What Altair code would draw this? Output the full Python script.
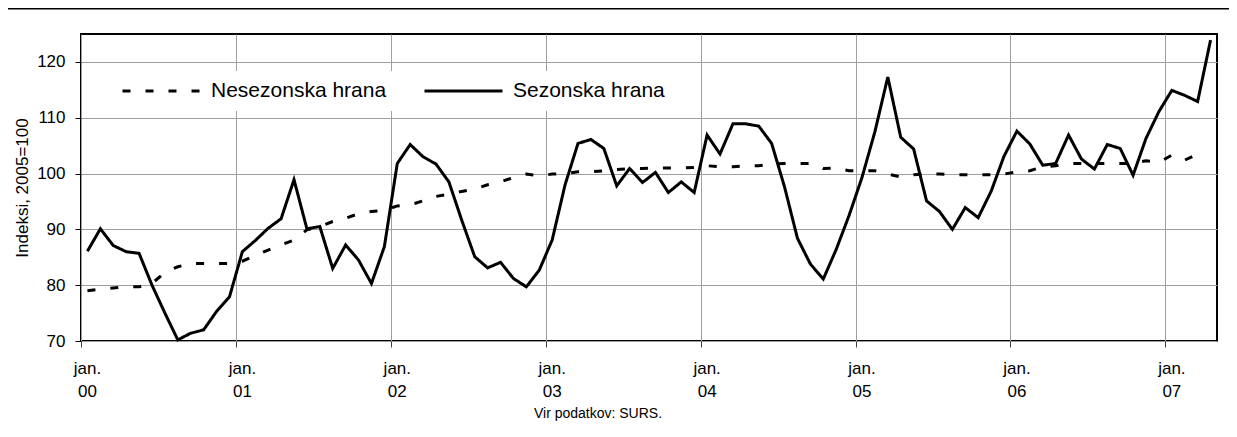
import altair as alt
import pandas as pd

# Monthly values, Jan 2000 .. Apr 2007 (index 0 = jan. 00)
sezonska = [86.1, 90.1, 87.1, 86.0, 85.7, 80.0, 75.0, 70.2, 71.4, 72.0, 75.3, 77.9,
            86.0, 88.0, 90.2, 91.9, 98.9, 90.1, 90.5, 83.0, 87.2, 84.5, 80.3, 86.9,
            101.8, 105.2, 103.0, 101.7, 98.5, 91.6, 85.1, 83.1, 84.1, 81.2, 79.7, 82.7,
            88.1, 98.0, 105.4, 106.1, 104.5, 97.8, 100.9, 98.4, 100.2, 96.6, 98.5, 96.6,
            106.9, 103.5, 108.9, 108.9, 108.5, 105.4, 97.6, 88.4, 83.8, 81.1, 86.4, 92.5,
            99.3, 107.5, 117.3, 106.5, 104.4, 95.1, 93.2, 90.0, 93.9, 92.1, 96.8, 103.1,
            107.6, 105.3, 101.5, 101.8, 106.9, 102.6, 100.8, 105.2, 104.5, 99.7, 106.3, 111.1,
            114.9, 114.0, 112.9, 123.9]
nesezonska = [79.0, 79.3, 79.5, 79.7, 79.7, 80.3, 82.3, 83.3, 83.9, 83.9, 83.9, 83.9,
              84.3, 85.3, 86.3, 87.2, 88.1, 89.9, 90.5, 91.4, 92.0, 92.8, 93.2, 93.4,
              94.2, 94.4, 95.1, 95.9, 96.3, 96.8, 97.2, 98.0, 98.5, 99.3, 99.9, 99.6,
              99.9, 100.0, 100.3, 100.3, 100.5, 100.7, 100.9, 100.9, 101.0, 101.0, 101.0, 101.1,
              101.4, 101.2, 101.2, 101.4, 101.4, 101.7, 101.8, 101.8, 101.8, 100.9, 101.0, 100.5,
              100.5, 100.5, 99.9, 99.4, 99.8, 99.9, 99.9, 99.8, 99.8, 99.8, 99.8, 99.9,
              100.3, 100.5, 101.2, 101.4, 101.8, 101.8, 101.8, 101.8, 101.8, 101.8, 102.3, 102.0,
              103.3, 102.4, 103.5]
series_names = ["Nesezonska hrana", "Sezonska hrana"]
year_ticks = [0, 12, 24, 36, 48, 60, 72, 84]
y_ticks = [70, 80, 90, 100, 110, 120]
y_title = "Indeksi, 2005=100"
source_text = "Vir podatkov: SURS."
n_months = 88

rows = []
for i, v in enumerate(nesezonska):
    rows.append({"series": series_names[0], "m": i + 0.5, "value": v})
for i, v in enumerate(sezonska):
    rows.append({"series": series_names[1], "m": i + 0.5, "value": v})
df = pd.DataFrame(rows)

FONT = "Liberation Sans"

lines = alt.Chart(df).mark_line(color="black", strokeWidth=3).encode(
    x=alt.X("m:Q",
            scale=alt.Scale(domain=[0, n_months], nice=False, zero=False),
            axis=alt.Axis(values=year_ticks, title=None, domain=False,
                          labelExpr="['jan.', '0' + floor(datum.value / 12)]",
                          labelOffset=6, labelFlush=False, labelOverlap=False,
                          labelFontSize=17, labelLineHeight=23, labelPadding=13,
                          labelBaseline="top",
                          tickSize=6, tickColor="#404040",
                          grid=True, gridColor="#a0a0a0", gridWidth=1)),
    y=alt.Y("value:Q",
            scale=alt.Scale(domain=[70, 125], nice=False, zero=False),
            axis=alt.Axis(values=y_ticks, title=y_title, domain=False,
                          labelFontSize=17, labelPadding=10, tickSize=6, tickColor="black",
                          titleFontSize=17, titleFontWeight="normal", titlePadding=5,
                          grid=True, gridColor="#a0a0a0", gridWidth=1)),
    strokeDash=alt.StrokeDash("series:N",
                              scale=alt.Scale(domain=series_names, range=[[8, 15], [1, 0]]),
                              legend=alt.Legend(title=None, orient="none", legendX=32, legendY=37,
                                                direction="horizontal", fillColor="white",
                                                padding=8, symbolType="stroke", symbolSize=6084,
                                                symbolStrokeWidth=3, symbolStrokeColor="black",
                                                clipHeight=24, labelFontSize=21, labelFont=FONT,
                                                labelColor="black", labelOffset=9,
                                                labelLimit=400, columnPadding=36)),
)

caption = alt.Chart(pd.DataFrame({"caption": [source_text]})).mark_text(
    fontSize=14, font=FONT, align="center", baseline="alphabetic", color="black"
).encode(x=alt.value(517), y=alt.value(384), text="caption:N")

topline = alt.Chart(pd.DataFrame({"k": [0]})).mark_rule(color="black", strokeWidth=1.5).encode(
    x=alt.value(-73), x2=alt.value(1148), y=alt.value(-25.3)
)

chart = alt.layer(lines, caption, topline).properties(
    width=1136, height=307,
    autosize=alt.AutoSizeParams(type="none"),
    padding={"left": 73, "top": 26, "right": 12, "bottom": 85},
).configure_view(stroke="black", strokeWidth=2).configure_axis(
    labelFont=FONT, titleFont=FONT, labelColor="black", titleColor="black"
)

chart.save("out.html", embed_options={"renderer": "svg", "actions": False})
